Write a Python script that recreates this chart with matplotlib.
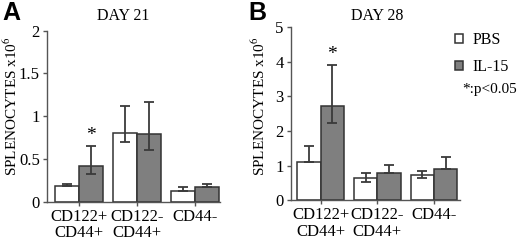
import numpy as np
import matplotlib.pyplot as plt

plt.rcParams['font.family'] = ['Liberation Serif', 'DejaVu Serif']
plt.rcParams['mathtext.fontset'] = 'stix'

groups = ['CD122+\nCD44+', 'CD122-\nCD44+', 'CD44-']

# day 21 (panel A)
pbs_21 = [0.18, 0.80, 0.13]
pbs_21_hi = [0.21, 1.12, 0.175]
pbs_21_lo = [0.18, 0.70, 0.13]
il15_21 = [0.42, 0.79, 0.17]
il15_21_hi = [0.655, 1.17, 0.21]
il15_21_lo = [0.32, 0.60, 0.17]

# day 28 (panel B)
pbs_28 = [1.11, 0.64, 0.73]
pbs_28_hi = [1.56, 0.79, 0.85]
pbs_28_lo = [1.11, 0.53, 0.63]
il15_28 = [2.72, 0.79, 0.90]
il15_28_hi = [3.91, 1.03, 1.26]
il15_28_lo = [2.23, 0.79, 0.90]

fig = plt.figure(figsize=(5.2, 2.4), dpi=100)
axA = fig.add_axes([0.0898, 0.1596, 0.333, 0.7125])
axB = fig.add_axes([0.559, 0.1654, 0.3256, 0.7221])

edge = '#333333'
gray = '#7f7f7f'
w = 0.41


def panel(ax, pbs, pbs_hi, pbs_lo, il, il_hi, il_lo, ymax, yticks, ytl, xlim):
    x = np.arange(len(groups))
    b1 = ax.bar(x - w / 2, pbs, w, color='white', edgecolor=edge, linewidth=1.1, zorder=2)
    b2 = ax.bar(x + w / 2, il, w, color=gray, edgecolor=edge, linewidth=1.1, zorder=2)
    pbs = np.array(pbs)
    il = np.array(il)
    ax.errorbar(x - w / 2, pbs, yerr=[pbs - np.array(pbs_lo), np.array(pbs_hi) - pbs],
                fmt='none', ecolor='#3a3a3a', elinewidth=1.3, capsize=3.5, capthick=1.3, zorder=3)
    ax.errorbar(x + w / 2, il, yerr=[il - np.array(il_lo), np.array(il_hi) - il],
                fmt='none', ecolor='#3a3a3a', elinewidth=1.3, capsize=3.5, capthick=1.3, zorder=3)
    ax.set_ylim(0, ymax)
    ax.set_xlim(*xlim)
    ax.set_yticks(yticks)
    ax.set_yticklabels(ytl, fontsize=12)
    ax.set_xticks(x)
    ax.set_xticklabels(groups, fontsize=12, linespacing=1.05)
    for s in ['top', 'right']:
        ax.spines[s].set_visible(False)
    for s in ['left', 'bottom']:
        ax.spines[s].set_color('#555555')
        ax.spines[s].set_linewidth(1.0)
    ax.tick_params(axis='both', direction='out', length=3, width=1.0, color='#555555', pad=2)
    return b1, b2


panel(axA, pbs_21, pbs_21_hi, pbs_21_lo, il15_21, il15_21_hi, il15_21_lo,
      2, [0, 0.5, 1, 1.5, 2], ['0', '0.5', '1', '1.5', '2'], (-0.56, 2.43))
b1, b2 = panel(axB, pbs_28, pbs_28_hi, pbs_28_lo, il15_28, il15_28_hi, il15_28_lo,
               5, [0, 1, 2, 3, 4, 5], ['0', '1', '2', '3', '4', '5'], (-0.53, 2.46))

# significance stars
axA.text(0 + w / 2, 0.78, '*', ha='center', va='center', fontsize=14)
axB.text(0 + w / 2, 4.22, '*', ha='center', va='center', fontsize=14)

# titles, panel letters, axis labels
fig.text(123 / 520, 1 - 16 / 240, 'DAY 21', ha='center', va='center', fontsize=11.5)
fig.text(377 / 520, 1 - 16 / 240, 'DAY 28', ha='center', va='center', fontsize=11.5)
fig.text(2 / 520, 1 - 1 / 240, 'A', ha='left', va='top', fontsize=18,
         fontweight='bold', family='Liberation Sans')
fig.text(248 / 520, 1 - 1 / 240, 'B', ha='left', va='top', fontsize=18,
         fontweight='bold', family='Liberation Sans')
fig.text(11 / 520, 0.558, 'SPLENOCYTES x10$^6$', rotation=90, ha='center', va='center', fontsize=11)
fig.text(259 / 520, 0.558, 'SPLENOCYTES x10$^6$', rotation=90, ha='center', va='center', fontsize=11)

fig.legend([b1, b2], ['PBS', 'IL-15'], loc='upper left', bbox_to_anchor=(455 / 520, 1 - 32 / 240),
           frameon=False, fontsize=11.5, handlelength=0.5, handleheight=0.5, handletextpad=0.6,
           labelspacing=0.7, borderpad=0, borderaxespad=0)
fig.text(462 / 520, 1 - 89 / 240, '*:p<0.05', ha='left', va='center', fontsize=11)

plt.savefig('out.png', dpi=100)
